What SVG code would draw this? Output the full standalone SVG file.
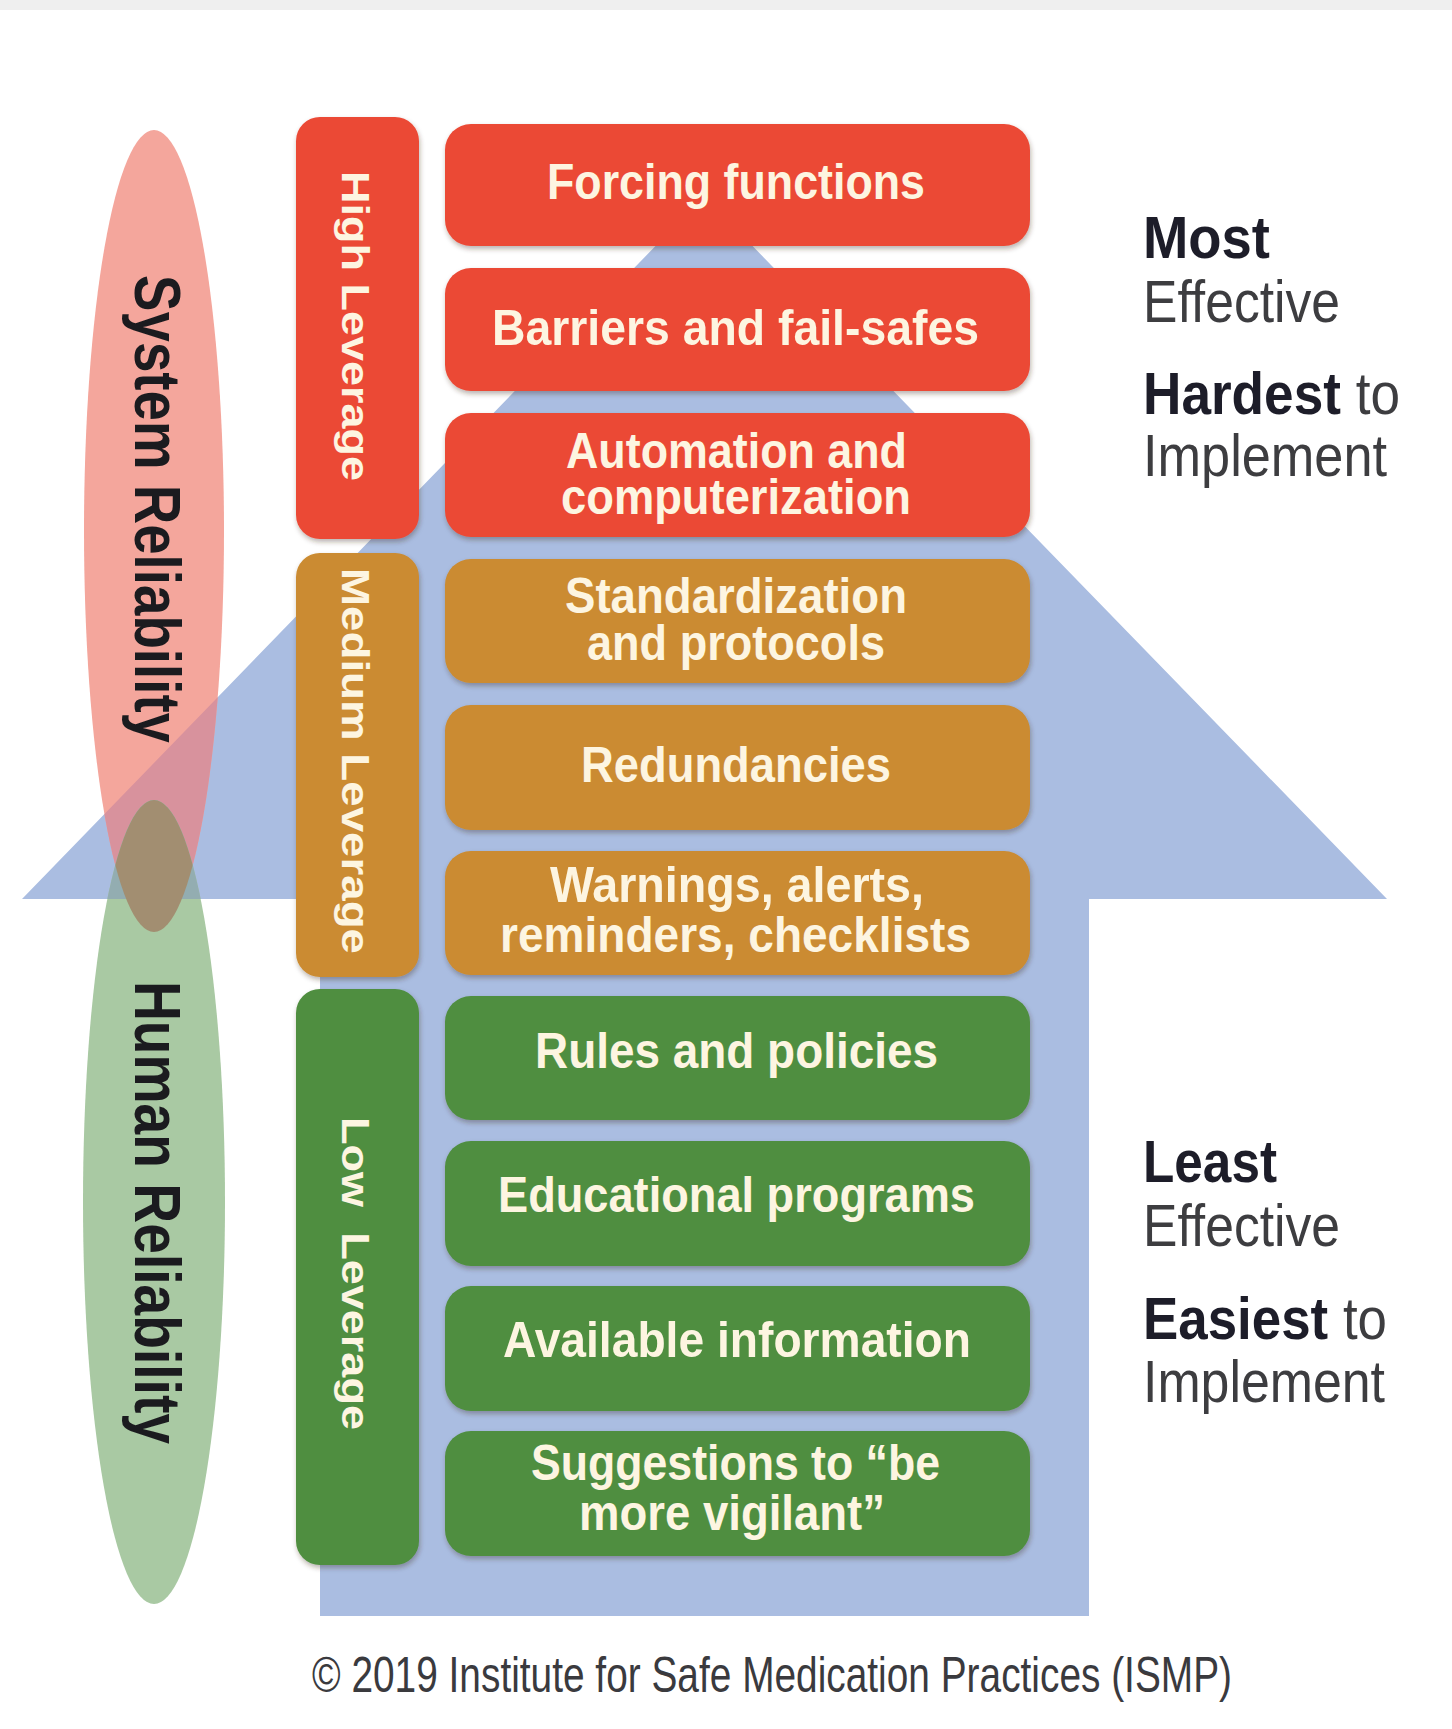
<svg xmlns="http://www.w3.org/2000/svg" width="1452" height="1729" viewBox="0 0 1452 1729">
  <defs>
    <style>
      .red { fill: #eb4a36; }
      .ora { fill: #cb8b30; }
      .grn { fill: #4f8e3f; }
      .box { filter: url(#shadow); }
      .bt { font-family: "Liberation Sans Narrow", "Liberation Sans", Arial, sans-serif; font-weight: 700; font-size: 50px; fill: #fdf5e1; }
      .side { font-family: "Liberation Sans", Arial, sans-serif; font-weight: 700; font-size: 38px; fill: #fdf5e1; }
      .rel { font-family: "Liberation Sans Narrow", "Liberation Sans", Arial, sans-serif; font-weight: 700; font-size: 64px; fill: #1b1b1f; }
      .rb { font-family: "Liberation Sans Narrow", "Liberation Sans", Arial, sans-serif; font-weight: 700; font-size: 60px; fill: #1d1d29; }
      .rr { font-family: "Liberation Sans Narrow", "Liberation Sans", Arial, sans-serif; font-weight: 400; font-size: 60px; fill: #3d3d40; }
      .reg { font-weight: 400; fill: #3d3d40; }
      .copy { font-family: "Liberation Sans Narrow", "Liberation Sans", Arial, sans-serif; font-weight: 400; font-size: 50px; fill: #3a3a3e; text-anchor: middle; }
    </style>
    <filter id="shadow" x="-10%" y="-10%" width="120%" height="130%">
      <feDropShadow dx="1" dy="3" stdDeviation="2.5" flood-color="#3a2a20" flood-opacity="0.35"/>
    </filter>
    <clipPath id="arrowClip">
      <polygon points="704,196 1387,899 1089,899 1089,1616 320,1616 320,899 22,899"/>
    </clipPath>
    <clipPath id="pinkClip">
      <ellipse cx="154" cy="531" rx="70" ry="401"/>
    </clipPath>
  </defs>

  <rect x="0" y="0" width="1452" height="1729" fill="#ffffff"/>
  <rect x="0" y="0" width="1452" height="10" fill="#efefef"/>

  <!-- big upward arrow behind the stack -->
  <g id="effectiveness-arrow">
    <polygon points="704,196 1387,899 1089,899 1089,1616 320,1616 320,899 22,899" fill="#aabde1"/>
  </g>

  <!-- reliability ellipses -->
  <g id="system-reliability">
    <ellipse cx="154" cy="531" rx="70" ry="401" fill="#f4a69c"/>
    <ellipse cx="154" cy="531" rx="70" ry="401" fill="#d8929d" clip-path="url(#arrowClip)"/>
  </g>
  <g id="human-reliability">
    <ellipse cx="154" cy="1202" rx="71" ry="402" fill="#a9c9a3"/>
    <ellipse cx="154" cy="1202" rx="71" ry="402" fill="#93adb1" clip-path="url(#arrowClip)"/>
    <g clip-path="url(#pinkClip)">
      <ellipse cx="154" cy="1202" rx="71" ry="402" fill="#a28e71"/>
    </g>
  </g>
  <g id="reliability-labels">
    <text class="rel" transform="translate(135,275) rotate(90)" textLength="468" lengthAdjust="spacingAndGlyphs">System Reliability</text>
    <text class="rel" transform="translate(135,981) rotate(90)" textLength="463" lengthAdjust="spacingAndGlyphs">Human Reliability</text>
  </g>

  <!-- leverage bars -->
  <g id="high-leverage">
    <rect class="box red" x="296" y="117" width="123" height="422" rx="24"/>
    <text class="side" transform="translate(342,171) rotate(90)" textLength="310" lengthAdjust="spacingAndGlyphs">High Leverage</text>
  </g>
  <g id="medium-leverage">
    <rect class="box ora" x="296" y="553" width="123" height="424" rx="24"/>
    <text class="side" transform="translate(342,568) rotate(90)" textLength="386" lengthAdjust="spacingAndGlyphs">Medium Leverage</text>
  </g>
  <g id="low-leverage">
    <rect class="box grn" x="296" y="989" width="123" height="576" rx="24"/>
    <text class="side" transform="translate(342,1117) rotate(90)" textLength="313" lengthAdjust="spacingAndGlyphs" xml:space="preserve" style="white-space:pre">Low  Leverage</text>
  </g>

  <!-- strategy boxes -->
  <g id="forcing-functions">
    <rect class="box red" x="445" y="124" width="585" height="122" rx="26"/>
    <text class="bt" x="547" y="199" textLength="378" lengthAdjust="spacingAndGlyphs">Forcing functions</text>
  </g>
  <g id="barriers">
    <rect class="box red" x="445" y="268" width="585" height="123" rx="26"/>
    <text class="bt" x="492" y="345" textLength="487" lengthAdjust="spacingAndGlyphs">Barriers and fail-safes</text>
  </g>
  <g id="automation">
    <rect class="box red" x="445" y="413" width="585" height="124" rx="26"/>
    <text class="bt" x="566" y="468" textLength="341" lengthAdjust="spacingAndGlyphs">Automation and</text>
    <text class="bt" x="561" y="514" textLength="350" lengthAdjust="spacingAndGlyphs">computerization</text>
  </g>
  <g id="standardization">
    <rect class="box ora" x="445" y="559" width="585" height="124" rx="26"/>
    <text class="bt" x="565" y="613" textLength="342" lengthAdjust="spacingAndGlyphs">Standardization</text>
    <text class="bt" x="587" y="660" textLength="298" lengthAdjust="spacingAndGlyphs">and protocols</text>
  </g>
  <g id="redundancies">
    <rect class="box ora" x="445" y="705" width="585" height="125" rx="26"/>
    <text class="bt" x="581" y="782" textLength="310" lengthAdjust="spacingAndGlyphs">Redundancies</text>
  </g>
  <g id="warnings">
    <rect class="box ora" x="445" y="851" width="585" height="124" rx="26"/>
    <text class="bt" x="550" y="902" textLength="374" lengthAdjust="spacingAndGlyphs">Warnings, alerts,</text>
    <text class="bt" x="500" y="952" textLength="471" lengthAdjust="spacingAndGlyphs">reminders, checklists</text>
  </g>
  <g id="rules">
    <rect class="box grn" x="445" y="996" width="585" height="124" rx="26"/>
    <text class="bt" x="535" y="1068" textLength="403" lengthAdjust="spacingAndGlyphs">Rules and policies</text>
  </g>
  <g id="education">
    <rect class="box grn" x="445" y="1141" width="585" height="125" rx="26"/>
    <text class="bt" x="498" y="1212" textLength="477" lengthAdjust="spacingAndGlyphs">Educational programs</text>
  </g>
  <g id="information">
    <rect class="box grn" x="445" y="1286" width="585" height="125" rx="26"/>
    <text class="bt" x="503" y="1357" textLength="468" lengthAdjust="spacingAndGlyphs">Available information</text>
  </g>
  <g id="vigilance">
    <rect class="box grn" x="445" y="1431" width="585" height="125" rx="26"/>
    <text class="bt" x="531" y="1480" textLength="409" lengthAdjust="spacingAndGlyphs">Suggestions to “be</text>
    <text class="bt" x="579" y="1530" textLength="306" lengthAdjust="spacingAndGlyphs">more vigilant”</text>
  </g>

  <!-- effectiveness notes -->
  <g id="top-note">
    <text class="rb" x="1143" y="258" textLength="127" lengthAdjust="spacingAndGlyphs">Most</text>
    <text class="rr" x="1143" y="322" textLength="197" lengthAdjust="spacingAndGlyphs">Effective</text>
    <text class="rb" x="1143" y="414" textLength="257" lengthAdjust="spacingAndGlyphs">Hardest<tspan class="reg"> to</tspan></text>
    <text class="rr" x="1143" y="476" textLength="244" lengthAdjust="spacingAndGlyphs">Implement</text>
  </g>
  <g id="bottom-note">
    <text class="rb" x="1143" y="1182" textLength="134" lengthAdjust="spacingAndGlyphs">Least</text>
    <text class="rr" x="1143" y="1246" textLength="197" lengthAdjust="spacingAndGlyphs">Effective</text>
    <text class="rb" x="1143" y="1339" textLength="244" lengthAdjust="spacingAndGlyphs">Easiest<tspan class="reg"> to</tspan></text>
    <text class="rr" x="1143" y="1402" textLength="242" lengthAdjust="spacingAndGlyphs">Implement</text>
  </g>

  <g id="copyright">
    <text class="copy" x="772" y="1692" textLength="920" lengthAdjust="spacingAndGlyphs">© 2019 Institute for Safe Medication Practices (ISMP)</text>
  </g>
</svg>
